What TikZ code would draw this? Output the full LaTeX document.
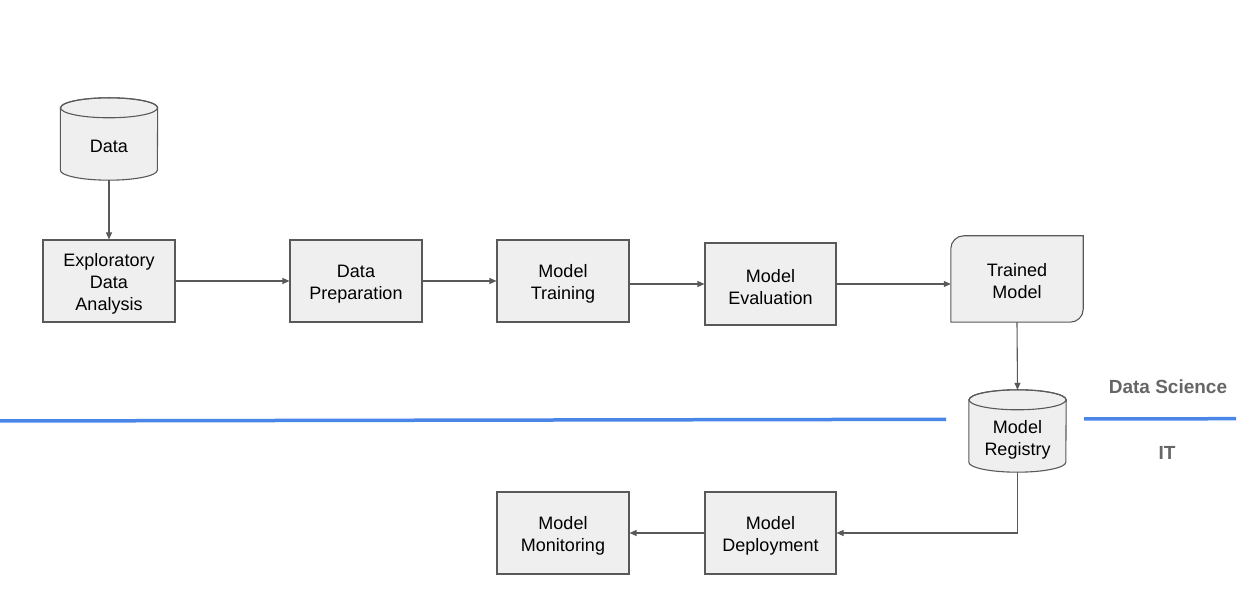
\documentclass[tikz,border=0pt]{standalone}
\usepackage{fontspec}
\setmainfont{Liberation Sans}
\usetikzlibrary{arrows.meta}
\definecolor{linegray}{HTML}{595959}
\definecolor{boxfill}{HTML}{EFEFEF}
\definecolor{laneblue}{HTML}{4A86E8}
\definecolor{lanetext}{HTML}{666666}
\begin{document}
\begin{tikzpicture}[x=1pt,y=1pt,
  txt/.style={align=center, font=\fontsize{18}{22}\selectfont, inner sep=0pt, text=black},
  box/.style={draw=linegray, fill=boxfill, line width=1.1pt, minimum width=132pt, minimum height=82pt, inner sep=0pt},
  frame/.style={inner sep=0pt, draw=none},
  shapeline/.style={draw=linegray, fill=boxfill, line width=1.1pt},
  conn/.style={draw=linegray, line width=1.1pt, -{Triangle[length=7pt,width=6pt]}},
  lane/.style={draw=laneblue, line width=3.5pt},
  lanelabel/.style={font=\fontsize{19}{22}\selectfont\bfseries, text=lanetext, inner sep=0pt}
]
\useasboundingbox (0,0) rectangle (1256,607);

% swim lane separator
\coordinate (laneA) at (0,186);
\coordinate (laneB) at (946,187.7);
\coordinate (laneC) at (1084,188);
\coordinate (laneD) at (1236,188.3);
\draw[lane] (laneA) -- (laneB);
\draw[lane] (laneC) -- (laneD);
\node[lanelabel] (ds) at (1168,220) {Data Science};
\node[lanelabel] (it) at (1167,154) {IT};

% Data cylinder
\node[frame, minimum width=97pt, minimum height=82pt] (data) at (109,468) {};
\path[shapeline] ([yshift=-10pt]data.north west) -- ([yshift=10pt]data.south west)
  arc[start angle=180,end angle=360,x radius=48.5pt,y radius=10pt]
  -- ([yshift=-10pt]data.north east)
  arc[start angle=0,end angle=180,x radius=48.5pt,y radius=10pt] -- cycle;
\draw[draw=linegray, line width=1.1pt] ([yshift=-10pt]data.north) ellipse[x radius=48.5pt,y radius=10pt];
\node[txt] (datalabel) at ([yshift=-7pt]data.center) {Data};

% process boxes
\node[box] (eda) at (109,326) {};
\node[txt] (edalabel) at ([yshift=-3pt]eda.center) {Exploratory\\Data\\Analysis};
\node[box] (prep) at (356,326) {};
\node[txt] (preplabel) at ([yshift=-3pt]prep.center) {Data\\Preparation};
\node[box] (train) at (563,326) {};
\node[txt] (trainlabel) at ([yshift=-3pt]train.center) {Model\\Training};
\node[box, minimum width=131pt] (eval) at (770.5,323) {};
\node[txt] (evallabel) at ([yshift=-3pt]eval.center) {Model\\Evaluation};

% Trained model (rounded top-left and bottom-right)
\node[frame, minimum width=132pt, minimum height=86pt] (trained) at (1017,328) {};
\path[shapeline] (trained.south west) -- ([yshift=-13pt]trained.north west)
  arc[start angle=180,end angle=90,radius=13pt]
  -- (trained.north east) -- ([yshift=13pt]trained.south east)
  arc[start angle=0,end angle=-90,radius=13pt] -- cycle;
\node[txt] (trainedlabel) at ([yshift=-2pt]trained.center) {Trained\\Model};

% Model registry cylinder
\node[frame, minimum width=97pt, minimum height=82pt] (registry) at (1017.5,176) {};
\path[shapeline] ([yshift=-10pt]registry.north west) -- ([yshift=10pt]registry.south west)
  arc[start angle=180,end angle=360,x radius=48.5pt,y radius=10pt]
  -- ([yshift=-10pt]registry.north east)
  arc[start angle=0,end angle=180,x radius=48.5pt,y radius=10pt] -- cycle;
\draw[draw=linegray, line width=1.1pt] ([yshift=-10pt]registry.north) ellipse[x radius=48.5pt,y radius=10pt];
\node[txt] (registrylabel) at ([yshift=-9pt]registry.center) {Model\\Registry};

% IT boxes
\node[box, minimum width=131pt] (deploy) at (770.5,74) {};
\node[txt] (deploylabel) at ([yshift=-3pt]deploy.center) {Model\\Deployment};
\node[box] (monitor) at (563,74) {};
\node[txt] (monitorlabel) at ([yshift=-3pt]monitor.center) {Model\\Monitoring};

% connectors
\draw[conn] (data.south) -- (eda.north);
\draw[conn] (eda.east) -- (prep.west);
\draw[conn] (prep.east) -- (train.west);
\draw[conn] (train.east |- eval.east) -- (eval.west);
\draw[conn] (eval.east) -- (trained.west |- eval.east);
\draw[conn] (trained.south) -- (registry.north);
\draw[conn] (registry.south) |- (deploy.east);
\draw[conn] (deploy.west) -- (monitor.east);
\end{tikzpicture}
\end{document}
